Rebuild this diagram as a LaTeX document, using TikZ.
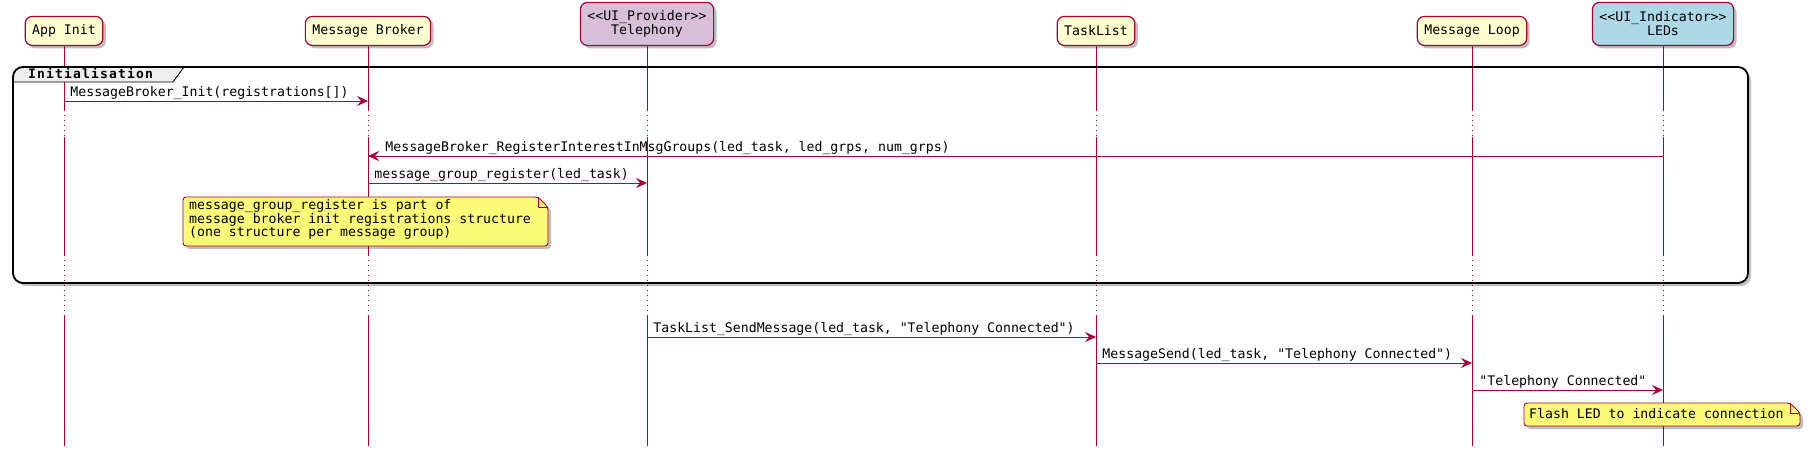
\documentclass[tikz,border=0pt]{standalone}
\usepackage{fontspec}
\newfontfamily\umlmono{DejaVu Sans Mono}
\newfontfamily\umltitle[LetterSpace = 9]{DejaVu Sans Mono Bold}
\usetikzlibrary{arrows.meta,shadows}
\definecolor{umlred}{HTML}{A80036}
\definecolor{partfill}{HTML}{FEFECE}
\definecolor{provfill}{HTML}{D8BFD8}
\definecolor{indfill}{HTML}{ADD8E6}
\definecolor{notefill}{HTML}{FBFB77}
\definecolor{tabfill}{HTML}{EEEEEE}
\tikzset{
    umlshadow/.style = {drop shadow = {shadow xshift = 3pt, shadow yshift = -3pt, fill = black, opacity = 0.25}},
    participant/.style = {draw = umlred, line width = 1.2pt, fill = partfill, rounded corners = 7pt,
        inner xsep = 7pt, inner ysep = 8pt, minimum height = 29pt, align = center,
        font = \umlmono\fontsize{13.2}{14}\selectfont, umlshadow},
    stereotype/.style = {minimum height = 43pt},
    lifeline/.style = {umlred, line width = 0.8pt},
    delay/.style = {umlred, line width = 0.8pt, dash pattern = on 1pt off 4pt},
    msg/.style = {umlred, line width = 0.9pt, -{Stealth[length = 11pt, width = 10pt, inset = 4pt]}},
    msglabel/.style = {font = \umlmono\fontsize{13.2}{14}\selectfont, inner sep = 0pt, text = black},
    notebox/.style = {draw = umlred, line width = 0.9pt, fill = notefill, rounded corners = 3pt, umlshadow},
    notetext/.style = {font = \umlmono\fontsize{13.2}{13}\selectfont, inner sep = 0pt, align = left}
}
\begin{document}
\begin{tikzpicture}[x = 1pt, y = -1pt]
    \useasboundingbox (0,0) rectangle (1811,456);
    % group frame
    \fill[white, rounded corners = 10pt, umlshadow] (13,67) rectangle (1748,283);
    % participants
    \node[participant, anchor = south] (app) at (64,46) {App Init};
    \node[participant, anchor = south] (broker) at (368,46) {Message Broker};
    \node[participant, stereotype, fill = provfill, anchor = south] (tele) at (647,46) {<<UI\_Provider>>\\Telephony};
    \node[participant, anchor = south] (tasks) at (1096,46) {TaskList};
    \node[participant, anchor = south] (loop) at (1472,46) {Message Loop};
    \node[participant, stereotype, fill = indfill, anchor = south] (leds) at (1663,46) {<<UI\_Indicator>>\\LEDs};
    % lifelines
    \coordinate (d1a) at (0,110);
    \coordinate (d1b) at (0,137);
    \coordinate (d2a) at (0,255);
    \coordinate (d2b) at (0,315);
    \coordinate (lifeend) at (0,446);
    \foreach \p in {app,broker,tele,tasks,loop,leds} {
        \draw[lifeline] (\p.south) -- (d1a -| \p);
        \draw[delay] (d1a -| \p) -- (d1b -| \p);
        \draw[lifeline] (d1b -| \p) -- (d2a -| \p);
        \draw[delay] (d2a -| \p) -- (d2b -| \p);
        \draw[lifeline] (d2b -| \p) -- (lifeend -| \p);
    }
    % group tab
    \begin{scope}
        \clip[rounded corners = 10pt] (13,67) rectangle (1748,283);
        \fill[tabfill] (13,67) -- (184,67) -- (173,82) -- (13,82) -- cycle;
    \end{scope}
    \draw[line width = 0.9pt] (184,67) -- (173,82) -- (13,82);
    \node[font = \umltitle\fontsize{13}{14}\selectfont, inner sep = 0pt, anchor = base west] (grouptitle) at (28,78.5) {Initialisation};
    \draw[line width = 1.8pt, rounded corners = 10pt] (13,67) rectangle (1748,283);
    % messages
    \coordinate (m1) at (0,101);
    \coordinate (m2) at (0,156);
    \coordinate (m3) at (0,183);
    \coordinate (m4) at (0,337);
    \coordinate (m5) at (0,363);
    \coordinate (m6) at (0,390);
    \begin{scope}[every node/.append style = {msglabel, anchor = base west, yshift = 5pt}]
        \draw[msg] (m1 -| app) -- node[at start, xshift = 6pt] {MessageBroker\_Init(registrations[])} (m1 -| broker);
        \draw[msg] (m2 -| leds) -- node[at end, xshift = 17pt] {MessageBroker\_RegisterInterestInMsgGroups(led\_task, led\_grps, num\_grps)} (m2 -| broker);
        \draw[msg] (m3 -| broker) -- node[at start, xshift = 6pt] {message\_group\_register(led\_task)} (m3 -| tele);
        \draw[msg] (m4 -| tele) -- node[at start, xshift = 6pt] {TaskList\_SendMessage(led\_task, "Telephony Connected")} (m4 -| tasks);
        \draw[msg] (m5 -| tasks) -- node[at start, xshift = 6pt] {MessageSend(led\_task, "Telephony Connected")} (m5 -| loop);
        \draw[msg] (m6 -| loop) -- node[at start, xshift = 7pt] {"Telephony Connected"} (m6 -| leds);
    \end{scope}
    % notes
    \draw[notebox] (183,197) -- (538,197) -- (548,207) -- (548,246) -- (183,246) -- cycle;
    \draw[umlred, line width = 0.9pt] (538,197) |- (548,207);
    \node[notetext, anchor = north west] (regnote) at (189,199.5) {message\_group\_register is part of\\message broker init registrations structure\\(one structure per message group)};
    \draw[notebox] (1524,403) -- (1790,403) -- (1800,413) -- (1800,426) -- (1524,426) -- cycle;
    \draw[umlred, line width = 0.9pt] (1790,403) |- (1800,413);
    \node[notetext, anchor = base west] (flashnote) at (1529,418) {Flash LED to indicate connection};
\end{tikzpicture}
\end{document}
